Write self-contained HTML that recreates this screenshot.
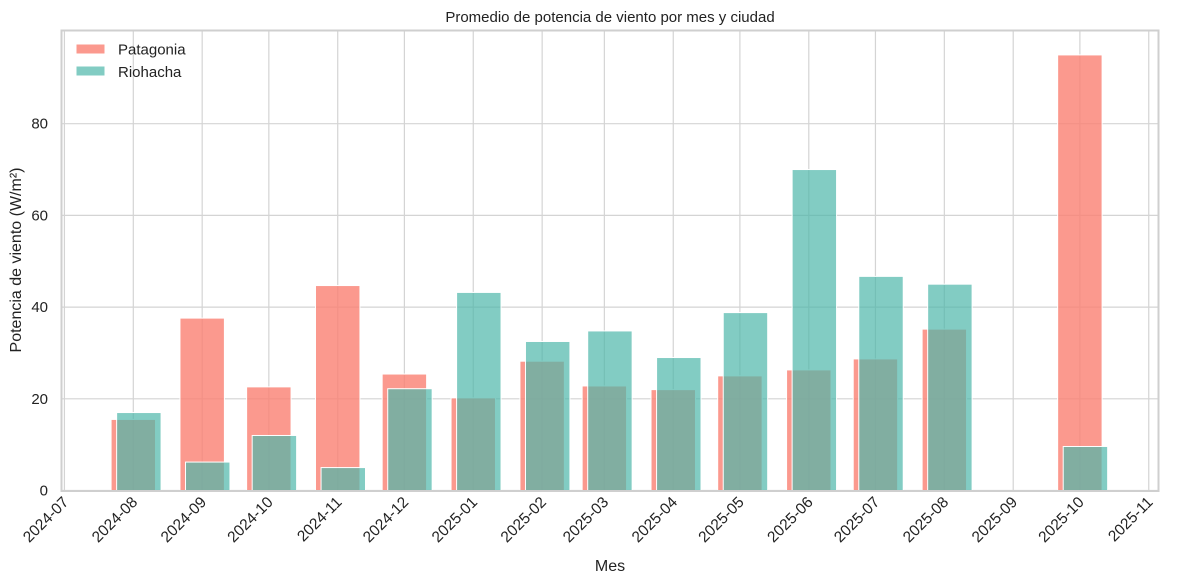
<!DOCTYPE html>
<html><head><meta charset="utf-8"><style>
body{margin:0;background:#fff;}
svg{display:block;font-family:"Liberation Sans",Arial,sans-serif;}
</style></head><body>
<svg id="chart" width="1182" height="584">
<rect width="1182" height="584" fill="#fff"/>
<text x="610" y="22" text-anchor="middle" font-size="15" fill="#222">Promedio de potencia de viento por mes y ciudad</text>
<g id="grid"></g>
<g id="bars"></g>
<rect x="61.5" y="30.5" width="1097" height="460.5" fill="none" stroke="#cfcfcf" stroke-width="2"/>
<g id="xt"></g><g id="yt"></g>
<text x="610" y="571" text-anchor="middle" font-size="16" fill="#222">Mes</text>
<text transform="translate(21,260) rotate(-90)" text-anchor="middle" font-size="16" fill="#222">Potencia de viento (W/m²)</text>
<g>
<g><rect x="76" y="44" width="29" height="10" fill="#fb998e" stroke="#fff"/><text x="118" y="54.5" font-size="15" fill="#222">Patagonia</text></g>
<g><rect x="76" y="66" width="29" height="10" fill="#82ccc3" stroke="#fff"/><text x="118" y="77" font-size="15" fill="#222">Riohacha</text></g>
</g>
</svg>
<script>
const months=["2024-08","2024-09","2024-10","2024-11","2024-12","2025-01","2025-02","2025-03","2025-04","2025-05","2025-06","2025-07","2025-08","2025-10"];
const patagonia=[15.5,37.6,22.6,44.7,25.4,20.2,28.2,22.8,22,25,26.3,28.7,35.2,95];
const riohacha=[17,6.2,12,5,22.2,43.2,32.5,34.8,29,38.8,70,46.7,45,9.6];
const xTicks=["2024-07","2024-08","2024-09","2024-10","2024-11","2024-12","2025-01","2025-02","2025-03","2025-04","2025-05","2025-06","2025-07","2025-08","2025-09","2025-10","2025-11"];
const yTicks=[0,20,40,60,80];
const NS='http://www.w3.org/2000/svg';
const t0=Date.UTC(2024,7,1);
function days(m){const[a,b]=m.split('-').map(Number);return (Date.UTC(a,b-1,1)-t0)/864e5;}
function X(d){return 133.3+d*2.222;}
function Y(v){return 490.5-v*4.585;}
function mk(tag,at,parent){const e=document.createElementNS(NS,tag);for(const k in at)e.setAttribute(k,at[k]);document.getElementById(parent).appendChild(e);return e;}
yTicks.forEach(v=>{
 const l=mk('line',{x1:61,x2:1158,y1:Y(v),y2:Y(v),stroke:'#d4d4d4','stroke-width':1.2},'grid');
 
 
 const t=mk('text',{x:48,y:Y(v)+5,'text-anchor':'end','font-size':15,fill:'#222'},'yt');t.textContent=v;
 
 
});
xTicks.forEach(m=>{
 const x=X(days(m));
 const l=mk('line',{x1:x,x2:x,y1:30,y2:491,stroke:'#d4d4d4','stroke-width':1.2},'grid');
 
 
 const t=mk('text',{transform:`translate(${x+5},${503}) rotate(-45)`,'text-anchor':'end','font-size':15.5,fill:'#222'},'xt');t.textContent=m;
 
 
});
months.forEach((m,i)=>{
 const d=days(m);
 const p=mk('rect',{x:X(d-10),y:Y(patagonia[i]),width:20*2.222,height:Y(0)-Y(patagonia[i]),fill:'#fa8072','fill-opacity':0.8,stroke:'#fff','stroke-width':1},'bars');
 
 
});
months.forEach((m,i)=>{
 const d=days(m);
 const r=mk('rect',{x:X(d-7.5),y:Y(riohacha[i]),width:20*2.222,height:Y(0)-Y(riohacha[i]),fill:'#4db6a9','fill-opacity':0.7,stroke:'#fff','stroke-width':1},'bars');
 
 
});
</script>
</body></html>
